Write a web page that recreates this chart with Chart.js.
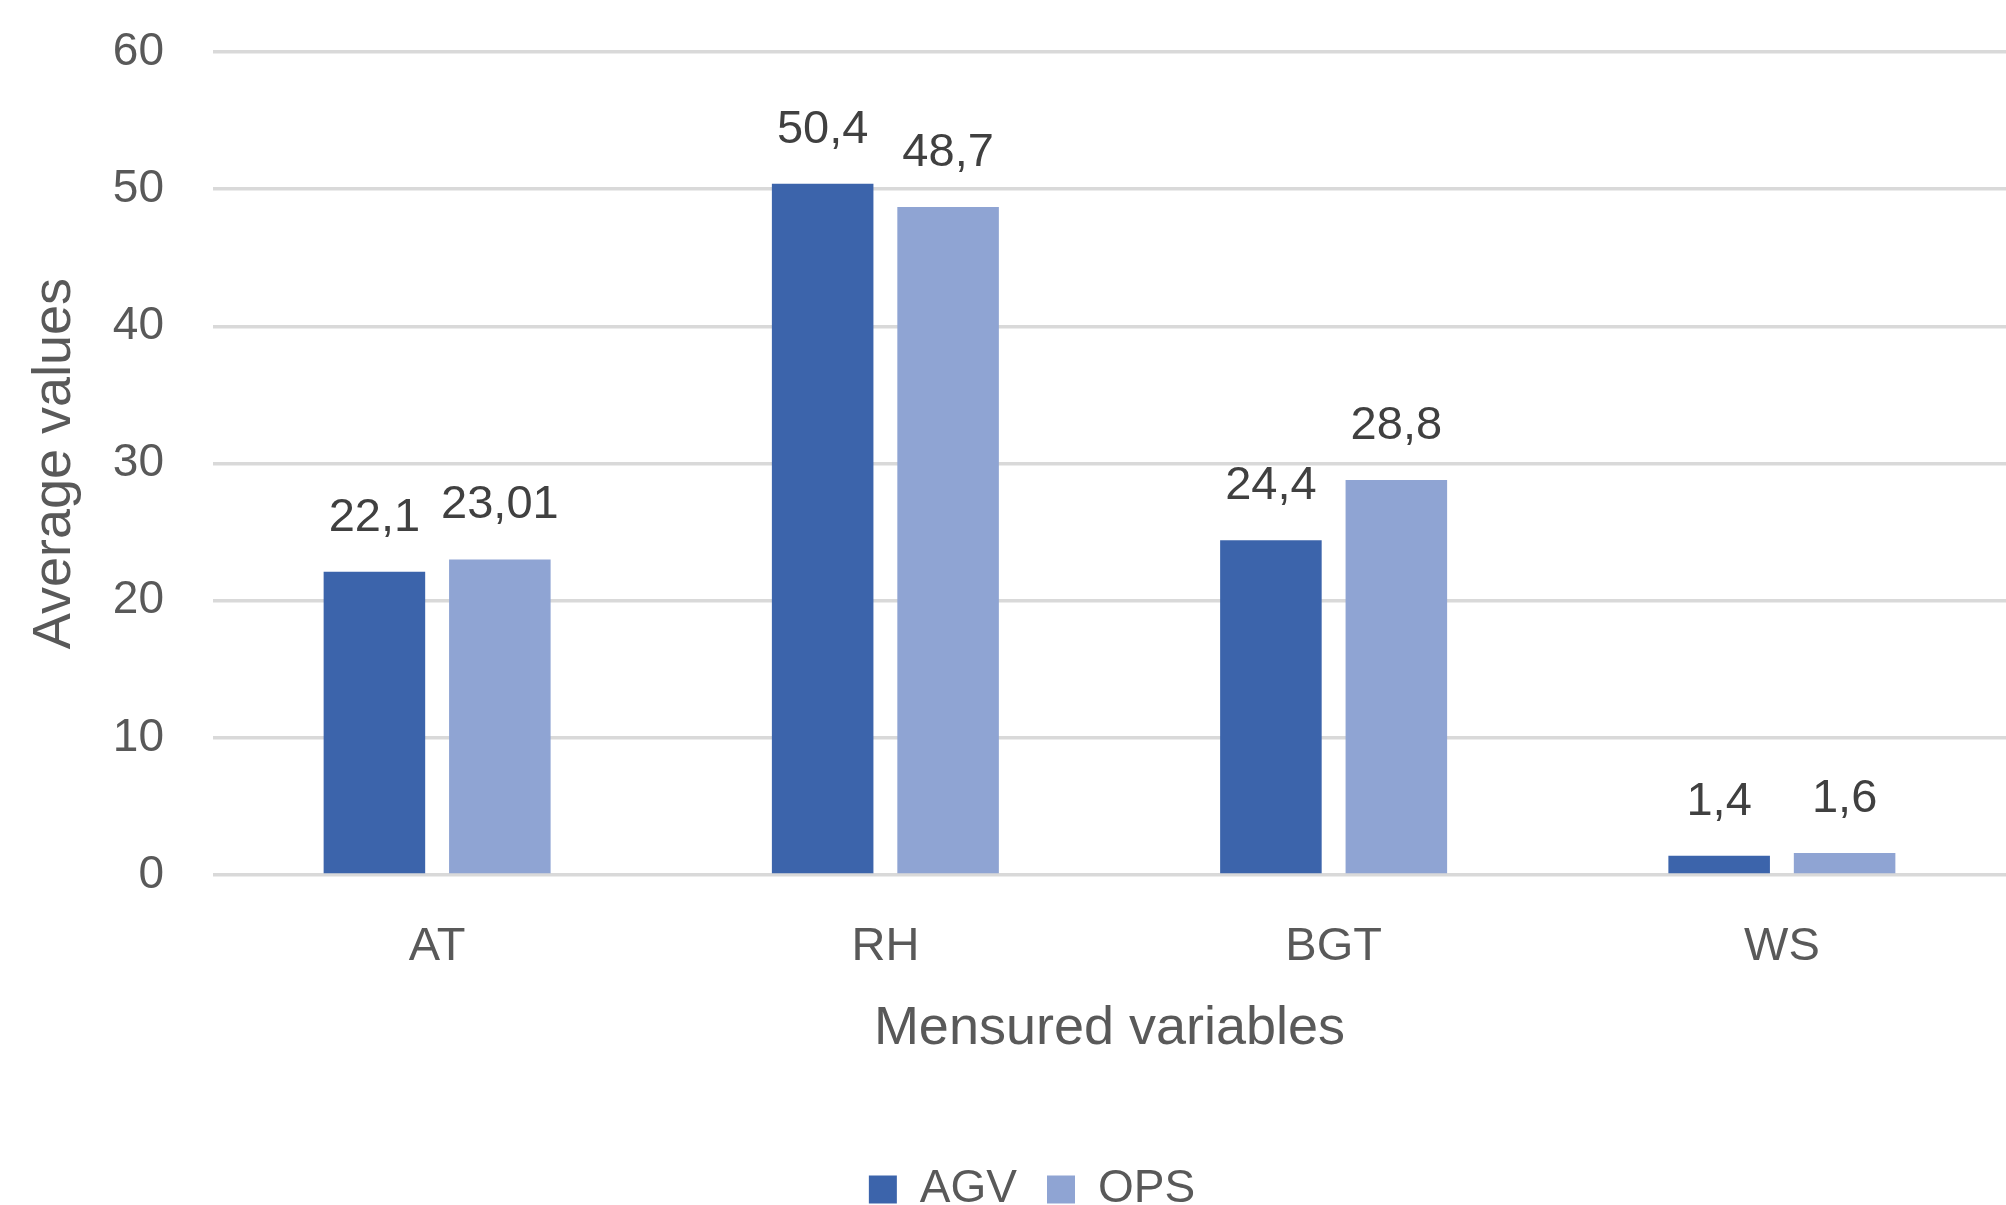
<!DOCTYPE html>
<html>
<head>
<meta charset="utf-8">
<script src="https://cdn.jsdelivr.net/npm/chart.js@4/dist/chart.umd.min.js"></script>
<style>
  html, body { margin: 0; padding: 0; background: #ffffff; }
  #wrap { width: 2006px; height: 1205px; position: relative; }
</style>
</head>
<body>
<div id="wrap"><canvas id="c"></canvas></div>
<script>
// ---- data ----
const categories = ['AT', 'RH', 'BGT', 'WS'];
const seriesNames = ['AGV', 'OPS'];
const agvValues = [22.1, 50.4, 24.4, 1.4];
const opsValues = [23.01, 48.7, 28.8, 1.6];
const yTickValues = [0, 10, 20, 30, 40, 50, 60];
const xAxisTitle = 'Mensured variables';
const yAxisTitle = 'Average values';

const FONT = '"Liberation Sans", Arial, sans-serif';
const GREY = '#595959';

function formatValue(v) {
  return String(v).replace('.', ',');
}

const valueLabels = {
  id: 'valueLabels',
  afterDatasetsDraw(chart) {
    const ctx = chart.ctx;
    ctx.save();
    ctx.font = '47px ' + FONT;
    ctx.fillStyle = '#404040';
    ctx.textAlign = 'center';
    ctx.textBaseline = 'alphabetic';
    chart.data.datasets.forEach((ds, i) => {
      chart.getDatasetMeta(i).data.forEach((bar, j) => {
        ctx.fillText(formatValue(ds.data[j]), bar.x, bar.y - 41);
      });
    });
    ctx.restore();
  }
};

const legendShift = {
  id: 'legendShift',
  afterLayout(chart) {
    if (chart.legend) {
      chart.legend.left += 25;
      chart.legend.right += 25;
    }
  }
};

new Chart(document.getElementById('c'), {
  type: 'bar',
  data: {
    labels: categories,
    datasets: [
      { label: seriesNames[0], data: agvValues, backgroundColor: '#3c64ab', borderWidth: 0,
        categoryPercentage: 0.5597, barPercentage: 0.8095 },
      { label: seriesNames[1], data: opsValues, backgroundColor: '#8fa4d3', borderWidth: 0,
        categoryPercentage: 0.5597, barPercentage: 0.8095 }
    ]
  },
  options: {
    responsive: true,
    maintainAspectRatio: false,
    devicePixelRatio: 1,
    animation: false,
    layout: { padding: { top: 52, left: 0, right: -8, bottom: -17.5 } },
    plugins: {
      tooltip: { enabled: false },
      legend: {
        display: true,
        position: 'bottom',
        labels: {
          boxWidth: 28,
          boxHeight: 28,
          padding: 30,
          color: GREY,
          font: { family: FONT, size: 46 }
        }
      }
    },
    scales: {
      x: {
        grid: { display: false, drawTicks: false },
        border: { display: false },
        ticks: { color: GREY, padding: 44, font: { family: FONT, size: 47 } },
        title: {
          display: true,
          text: xAxisTitle,
          color: GREY,
          font: { family: FONT, size: 54 },
          padding: { top: 0, bottom: 75 }
        },
        afterFit(scale) { scale.height = 261.5; }
      },
      y: {
        min: yTickValues[0],
        max: yTickValues[yTickValues.length - 1],
        afterBuildTicks(scale) { scale.ticks = yTickValues.map(v => ({ value: v })); },
        grid: { color: '#d9d9d9', lineWidth: 3.6, drawTicks: true, tickLength: 49, tickColor: 'rgba(0,0,0,0)' },
        border: { display: false },
        ticks: { color: GREY, padding: 0, font: { family: FONT, size: 46 } },
        title: {
          display: true,
          text: yAxisTitle,
          color: GREY,
          font: { family: FONT, size: 54 },
          padding: { top: 23, bottom: 0 }
        },
        afterFit(scale) { scale.width = 213; }
      }
    }
  },
  plugins: [valueLabels, legendShift]
});
</script>
</body>
</html>
